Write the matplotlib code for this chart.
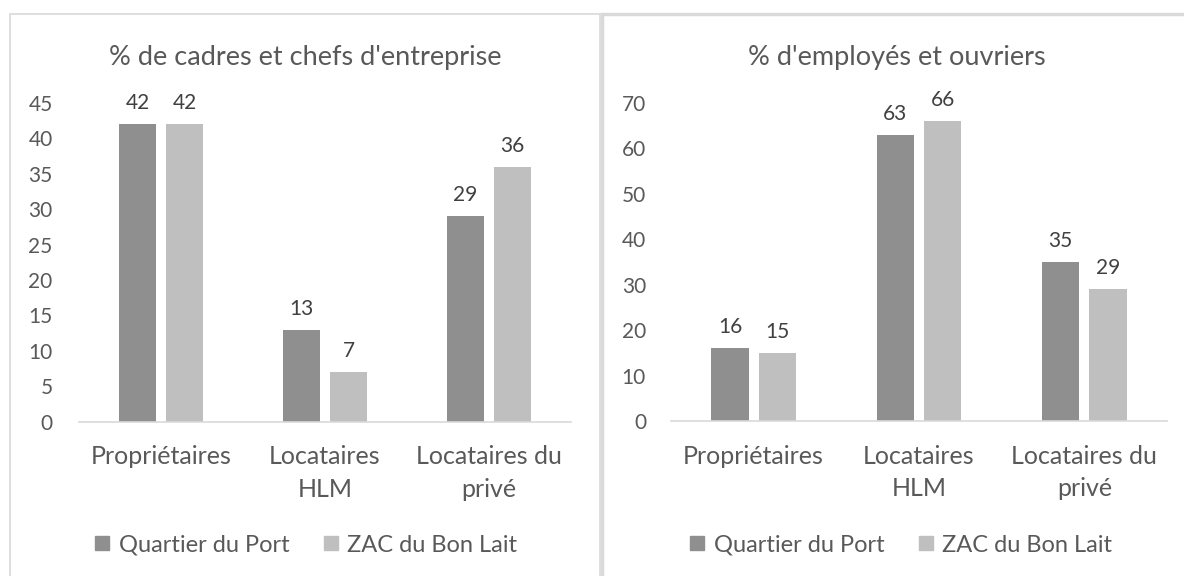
import numpy as np
import matplotlib.pyplot as plt
from matplotlib.patches import Rectangle
from matplotlib.lines import Line2D

# ----------------------------------------------------------------------------
# Data
# ----------------------------------------------------------------------------
categories = ["Propriétaires", "Locataires\nHLM", "Locataires du\nprivé"]
series_names = ["Quartier du Port", "ZAC du Bon Lait"]

cadres_port = [42, 13, 29]
cadres_zac = [42, 7, 36]

employes_port = [16, 63, 35]
employes_zac = [15, 66, 29]

titles = ["% de cadres et chefs d'entreprise", "% d'employés et ouvriers"]

# ----------------------------------------------------------------------------
# Style
# ----------------------------------------------------------------------------
DARK = "#8f8f8f"
LIGHT = "#bfbfbf"
TEXT = "#595959"
LINE = "#d9d9d9"

plt.rcParams.update({
    "font.family": ["Lato", "DejaVu Sans"],
    "font.size": 15,
    "text.color": TEXT,
})

W, H = 1184, 576
fig = plt.figure(figsize=(W / 100, H / 100), dpi=100)


def px_axes(x0, y0, x1, y1):
    """Axes from pixel box (top-left origin)."""
    return fig.add_axes([x0 / W, 1 - y1 / H, (x1 - x0) / W, (y1 - y0) / H])


# panel frames
fig.add_artist(Rectangle((10 / W, -0.1), 590 / W, 1.1 - 14 / H,
                         transform=fig.transFigure, fill=False,
                         edgecolor=LINE, lw=1.2))
fig.add_artist(Rectangle((601.5 / W, -0.1), 0.5, 1.1 - 14 / H,
                         transform=fig.transFigure, fill=False,
                         edgecolor=LINE, lw=2.5))

# (series a, series b, ymax, step, axes box px, title x, panel centre x, ytick pad)
panels = [
    (cadres_port, cadres_zac, 45, 5, (79, 103, 571, 421.7), 305, 305, 19),
    (employes_port, employes_zac, 70, 10, (671, 103, 1167, 421), 897, 900, 18),
]

bar_w = 0.225
offset = 0.143
x = np.arange(len(categories))

for i, (port, zac, ymax, step, box, title_x, centre_x, ypad) in enumerate(panels):
    ax = px_axes(*box)
    b1 = ax.bar(x - offset, port, width=bar_w, color=DARK)
    b2 = ax.bar(x + offset, zac, width=bar_w, color=LIGHT)
    for bars in (b1, b2):
        ax.bar_label(bars, padding=8, fontsize=15, color="#404040")

    ax.set_xlim(-0.5, len(categories) - 0.5)
    ax.set_ylim(0, ymax)
    ax.set_yticks(np.arange(0, ymax + 1, step))
    ax.set_xticks(x)
    ax.set_xticklabels(categories, fontsize=18, color=TEXT, linespacing=1.5)
    ax.tick_params(axis="y", length=0, pad=ypad, labelsize=15, labelcolor=TEXT)
    ax.tick_params(axis="x", length=0, pad=17)
    for s in ("top", "right", "left"):
        ax.spines[s].set_visible(False)
    ax.spines["bottom"].set_color(LINE)
    ax.spines["bottom"].set_linewidth(1.2)

    fig.text(title_x / W, 1 - 57 / H, titles[i], ha="center", va="center",
             fontsize=19.5, color=TEXT)

    handles = [Line2D([], [], marker="s", linestyle="none", markersize=10.5,
                      color=c) for c in (DARK, LIGHT)]
    fig.legend(handles, series_names, loc="center",
               bbox_to_anchor=(centre_x / W, 1 - 545 / H), ncol=2, frameon=False,
               fontsize=17, handletextpad=0.3, columnspacing=1.35,
               handlelength=0.8, labelcolor=TEXT)

fig.savefig("out.png", dpi=100)
